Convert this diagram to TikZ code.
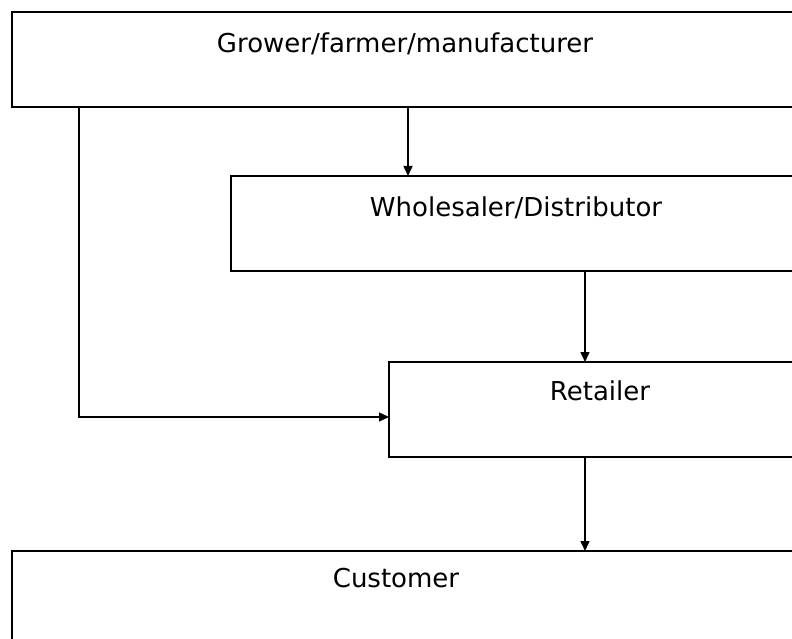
\documentclass[tikz,border=0pt]{standalone}
\usepackage{fontspec}
\setmainfont{DejaVu Sans}
\usetikzlibrary{arrows.meta}
\begin{document}
\begin{tikzpicture}[x=1pt,y=-1pt,
  stage/.style={draw=black,line width=1.5pt,rectangle,inner sep=0pt,outer sep=0pt},
  caption/.style={anchor=base,inner sep=0pt,font=\fontsize{26}{30}\selectfont},
  flow/.style={draw=black,line width=1.5pt,-{Triangle[length=10pt,width=9pt]}}]
  \useasboundingbox (0,0) rectangle (792,639);
  \clip (0,0) rectangle (792,639);
  % supply chain stages (right sides run past the page edge)
  \node[stage,minimum width=808pt,minimum height=95pt] (grower) at (416,59.5) {};
  \node[stage,minimum width=589pt,minimum height=95pt] (whole) at (525.5,223.5) {};
  \node[stage,minimum width=431pt,minimum height=95pt] (retail) at (604.5,409.5) {};
  \node[stage,minimum width=808pt,minimum height=120pt] (cust) at (416,611) {};
  % stage names
  \node[caption] (tg) at (405,53) {Grower/farmer/manufacturer};
  \node[caption] (tw) at (516,216) {Wholesaler/Distributor};
  \node[caption] (tr) at (600,400) {Retailer};
  \node[caption] (tc) at (396,587) {Customer};
  % flows between stages
  \coordinate (gw) at (408,0);
  \coordinate (wr) at (585,0);
  \coordinate (gl) at (79,0);
  \draw[flow] (grower.south -| gw) -- (whole.north -| gw);
  \draw[flow] (whole.south -| wr) -- (retail.north -| wr);
  \draw[flow] (retail.south -| wr) -- (cust.north -| wr);
  \coordinate (bend) at (79,417);
  \draw[flow] (grower.south -| gl) -- (bend) -- (bend -| retail.west);
\end{tikzpicture}
\end{document}
